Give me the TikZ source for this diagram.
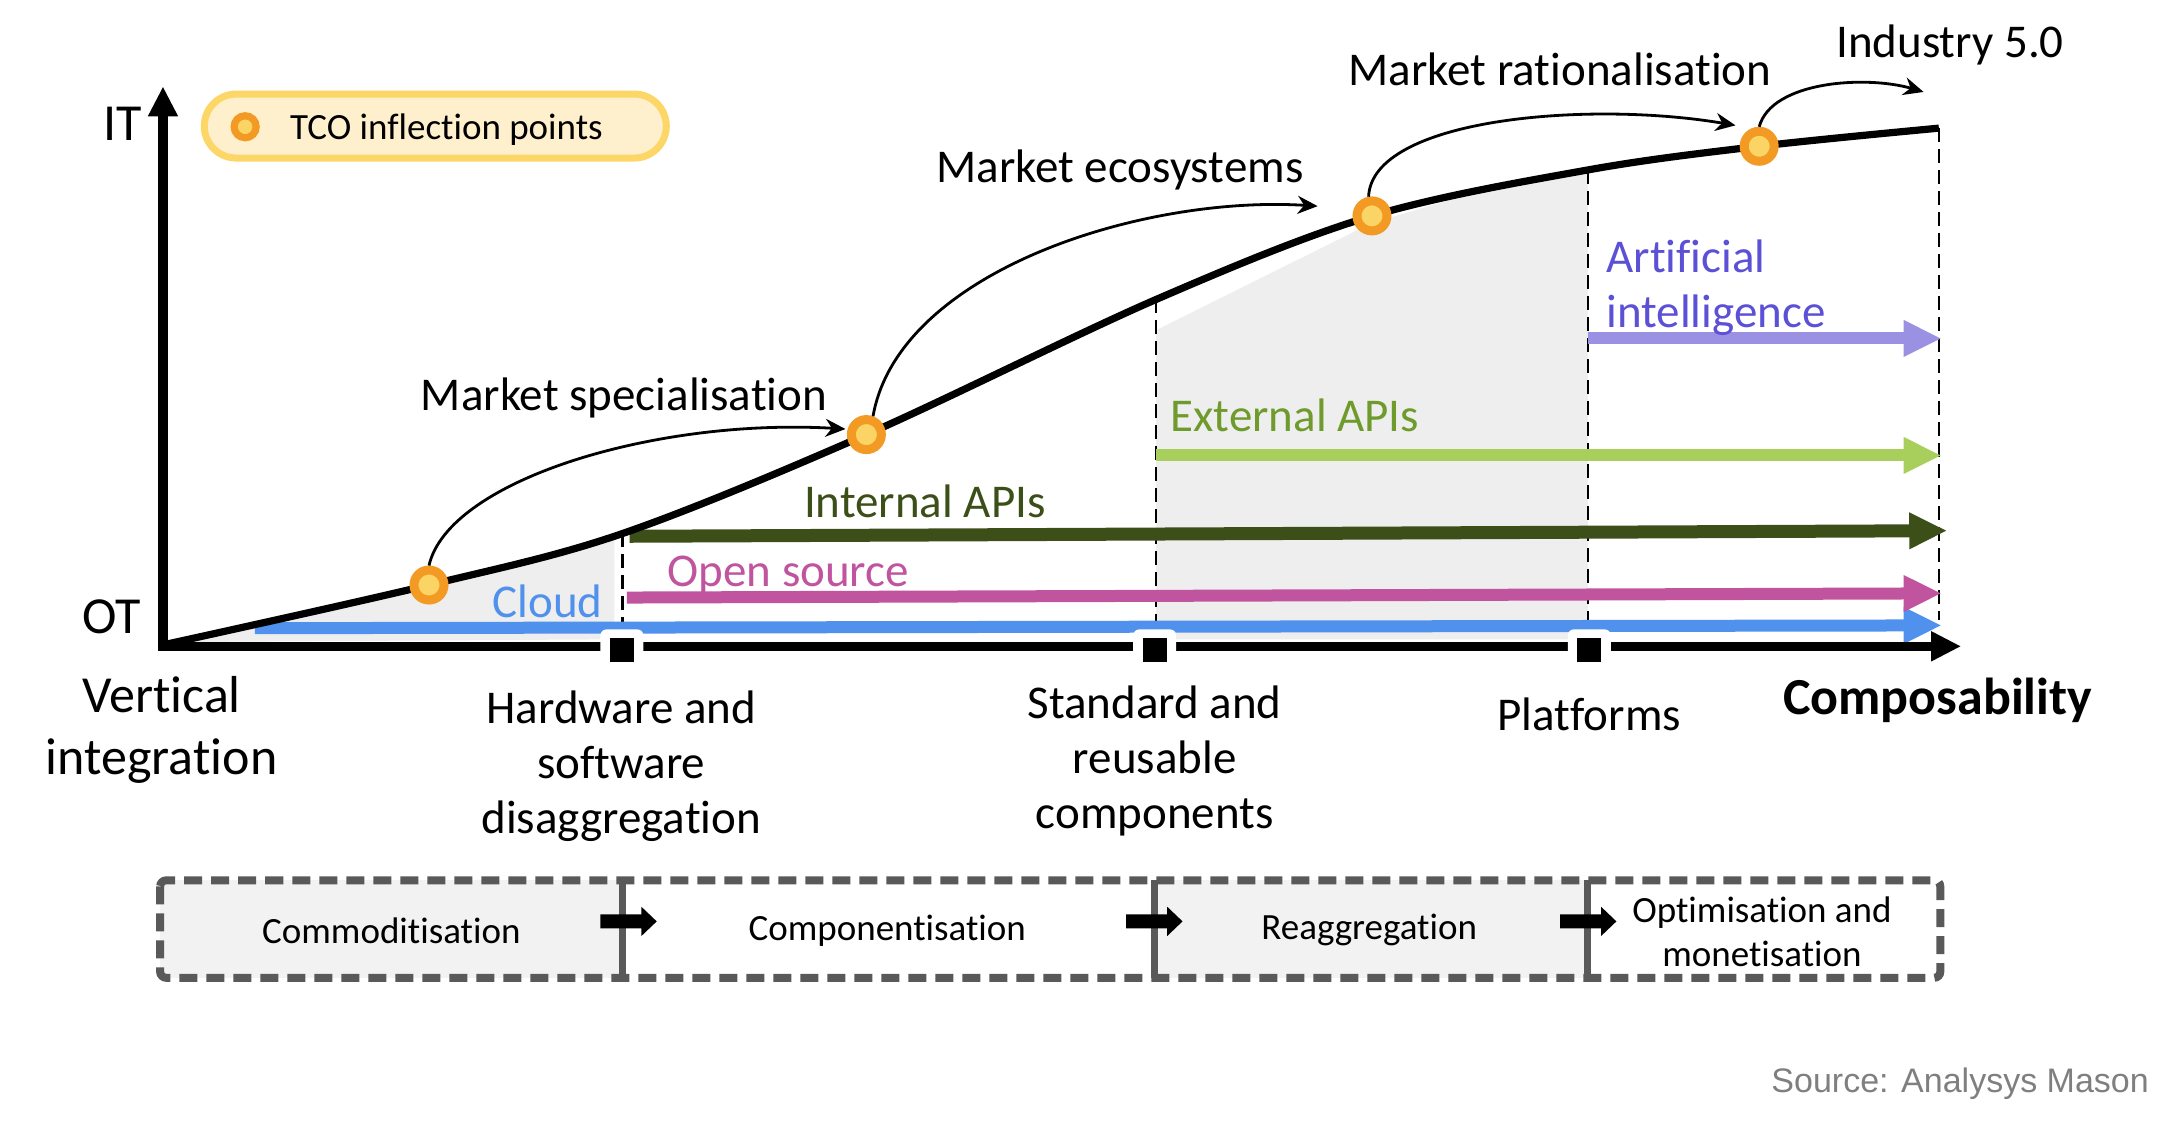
\documentclass[tikz,border=0pt]{standalone}
\usepackage{fontspec}
\setmainfont{Carlito}[Ligatures=NoCommon]
\newfontfamily\srcfont{Liberation Sans}
\usetikzlibrary{arrows.meta}
\definecolor{cloudblue}{HTML}{4F91EC}
\definecolor{opmag}{HTML}{C0549E}
\definecolor{intolive}{HTML}{3D4F19}
\definecolor{extline}{HTML}{A8CF5C}
\definecolor{exttext}{HTML}{6F9A2C}
\definecolor{ailine}{HTML}{9A91E2}
\definecolor{aitext}{HTML}{5B50D6}
\definecolor{tcoorange}{HTML}{F39A24}
\definecolor{tcoyellow}{HTML}{FAD565}
\definecolor{legfill}{HTML}{FEF0CC}
\definecolor{legborder}{HTML}{FCD666}
\definecolor{shadegray}{HTML}{EEEEEE}
\definecolor{boxgray}{HTML}{595959}
\definecolor{boxfill}{HTML}{F2F2F2}
\definecolor{srcgray}{HTML}{7F7F7F}
\begin{document}
\begin{tikzpicture}[x=0.6964pt,y=-0.6964pt,
  lbl/.style={font=\fontsize{23.5}{27.5}\selectfont, inner sep=0pt, align=center},
  biglbl/.style={font=\fontsize{26}{31.3}\selectfont, inner sep=0pt, align=center},
  boxlbl/.style={font=\fontsize{18.5}{22}\selectfont, inner sep=0pt, align=center},
  tco/.style={circle, draw=tcoorange, fill=tcoyellow, line width=4.5pt, minimum size=15pt, inner sep=0pt},
  vdash/.style={line width=1.3pt, dash pattern=on 7pt off 3.5pt},
  trend/.style={line width=6pt, -{Triangle[length=19pt,width=17pt]}},
  jump/.style={line width=1.4pt, -{Stealth[length=10pt,width=9pt]}},
  phase/.style={draw=boxgray, line width=4pt, dash pattern=on 9pt off 4.5pt},
  divider/.style={draw=boxgray, line width=3.5pt},
  sqback/.style={fill=white, rounded corners=3pt, minimum width=21.5pt, minimum height=19pt, inner sep=0pt},
  sq/.style={fill=black, minimum size=12pt, inner sep=0pt},
  blockarrow/.style={fill=black}
]
\useasboundingbox (0,0) rectangle (1568,808);

% shaded regions
\fill[shadegray] (122,461) -- (308,420) -- (441,386) -- (441,459) -- cycle;
\fill[shadegray] (830,459) -- (830,237) -- (985,160) -- (1060,138) -- (1140,124) -- (1140,459) -- cycle;

% curve points
\coordinate (o) at (117,464);
\coordinate (q1) at (447,383);
\coordinate (q2) at (830,215);
\coordinate (q3) at (1140,122);
\coordinate (q4) at (1392,92);

% dashed verticals
\draw[vdash] (q1) -- (447,458);
\draw[vdash] (q2) -- (830,458);
\draw[vdash] (q3) -- (1140,458);
\draw[vdash] (q4) -- (1392,445);

% trend arrows
\coordinate (cl0) at (183,451); \coordinate (cl1) at (1394,449);
\coordinate (os0) at (450,429); \coordinate (os1) at (1394,426);
\coordinate (ia0) at (452,385); \coordinate (ia1) at (1398,381);
\coordinate (ea0) at (830,327); \coordinate (ea1) at (1394,327);
\coordinate (ai0) at (1140,243); \coordinate (ai1) at (1394,243);
\draw[trend, draw=cloudblue, fill=cloudblue] (cl0) -- (cl1);
\draw[trend, draw=opmag, fill=opmag] (os0) -- (os1);
\draw[trend, draw=intolive, fill=intolive, line width=6.5pt] (ia0) -- (ia1);
\draw[trend, draw=extline, fill=extline] (ea0) -- (ea1);
\draw[trend, draw=ailine, fill=ailine] (ai0) -- (ai1);

% axes
\draw[line width=4.8pt, {Triangle[length=15pt,width=14pt]}-{Triangle[length=15pt,width=14pt]}]
  (117,62) -- (o) -- (1408,464);

% markers
\foreach \x/\n in {446.5/m1, 829/m2, 1141/m3} {
  \node[sqback] at (\x,465.5) {};
  \node[sq] (\n) at (\x,467) {};
}

% main curve
\draw[line width=3.6pt, line join=round]
  plot[smooth, tension=0.55] coordinates {(117,463) (308,420) (447,383) (622,312) (830,215) (985,155) (1140,122) (1263,105) (1392,92)};

% TCO points
\node[tco] (c1) at (308,420) {};
\node[tco] (c2) at (622,312) {};
\node[tco] (c3) at (985,155) {};
\node[tco] (c4) at (1263,105) {};

% jumps
\coordinate (e1) at (607,308);
\coordinate (e2) at (946,148);
\coordinate (e3) at (1246,90);
\coordinate (e4) at (1381,66);
\draw[jump] (c1.north) .. controls (322,345) and (470,300) .. (e1);
\draw[jump] (c2.70) .. controls (645,195) and (820,140) .. (e2);
\draw[jump] (c3.100) .. controls (985,85) and (1140,72) .. (e3);
\draw[jump] (c4.north) .. controls (1272,58) and (1340,54) .. (e4);

% legend
\node[draw=legborder, fill=legfill, line width=3.5pt, rounded corners=16pt,
      minimum width=231pt, minimum height=32pt] (legend) at (312.5,90.5) {};
\node[circle, draw=tcoorange, fill=tcoyellow, line width=3.6pt, minimum size=11pt, inner sep=0pt] (legc) at (176,91) {};
\node[font=\fontsize{18.5}{22}\selectfont, inner sep=0pt, anchor=west] (legt) at (208,93) {TCO inflection points};

% axis labels
\node[biglbl] (it) at (88,89) {IT};
\node[biglbl] (ot) at (80,443) {OT};

% labels
\node[lbl] (ms) at (448,286) {Market specialisation};
\node[lbl] (me) at (804,122) {Market ecosystems};
\node[lbl] (mr) at (1120,50) {Market rationalisation};
\node[lbl] (i5) at (1400,32) {Industry 5.0};

\node[lbl, text=cloudblue, anchor=east] (tcl) at (433,432) {Cloud};
\node[lbl, text=opmag, anchor=west] (tos) at (479,413) {Open source};
\node[lbl, text=intolive, anchor=west] (tia) at (577,360) {Internal APIs};
\node[lbl, text=exttext, anchor=west] (tea) at (840,298) {External APIs};
\node[lbl, text=aitext, anchor=north west, align=left] (tai) at (1153,172) {Artificial\\intelligence};

% x labels
\node[biglbl] (vi) at (116,524) {Vertical\\integration};
\node[lbl] (hw) at (446,550) {Hardware and\\software\\disaggregation};
\node[lbl] (st) at (829,546) {Standard and\\reusable\\components};
\node[lbl] (pl) at (1141,513) {Platforms};
\node[biglbl, font=\bfseries\fontsize{26}{31}\selectfont] (cp) at (1391,503) {Composability};

% phase boxes
\fill[boxfill] (115,632) rectangle (447,702);
\fill[boxfill] (829,632) rectangle (1140,702);
\draw[phase, rounded corners=3pt] (115,632) rectangle (1393,702);
\draw[divider] (447,632) -- (447,702);
\draw[divider] (829,632) -- (829,702);
\draw[divider] (1140,632) -- (1140,702);
\node[boxlbl] (b1) at (281,668) {Commoditisation};
\node[boxlbl] (b2) at (637,668) {Componentisation};
\node[boxlbl] (b3) at (983,668) {Reaggregation};
\node[boxlbl] (b4) at (1265,669) {Optimisation and\\monetisation};

% block arrows
\foreach \x in {431, 808.5, 1120} {
  \fill[blockarrow] (\x,656.5) -- (\x+29.5,656.5) -- (\x+29.5,651) -- (\x+40.5,661.5) -- (\x+29.5,672) -- (\x+29.5,666.5) -- (\x,666.5) -- cycle;
}

% source
\node[font=\srcfont\fontsize{17}{20}\selectfont, text=srcgray, anchor=east, inner sep=0pt] (src) at (1543,778) {Source: Analysys Mason};
\end{tikzpicture}
\end{document}
